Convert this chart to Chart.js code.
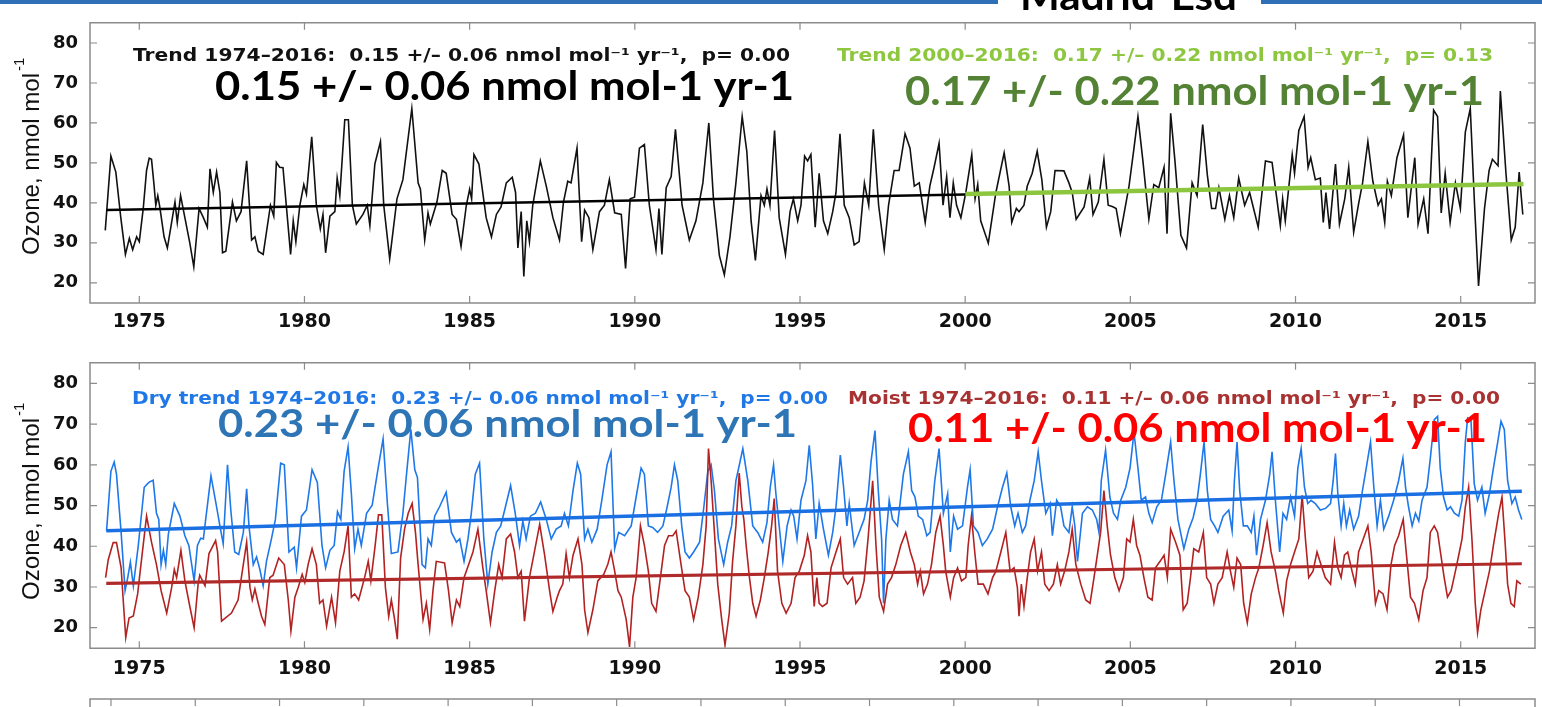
<!DOCTYPE html>
<html>
<head>
<meta charset="utf-8">
<title>Madrid-Esd ozone trends</title>
<script src="https://cdn.jsdelivr.net/npm/chart.js@4.4.1/dist/chart.umd.min.js"></script>
<style>
  html, body { margin: 0; padding: 0; background: #fff; }
  body { width: 1542px; height: 707px; position: relative; overflow: hidden; }
  .bar { position: absolute; top: 0; height: 4px; background: #2e6fb7; }
  canvas { position: absolute; left: 0; }
</style>
</head>
<body>
<div class="bar" style="left:0;width:998px"></div>
<div class="bar" style="left:1261px;width:281px"></div>
<canvas id="topChart" width="1542" height="340" style="top:0"></canvas>
<canvas id="bottomChart" width="1542" height="350" style="top:340px"></canvas>
<canvas id="nextChart" width="1542" height="17" style="top:690px"></canvas>
<script>
// axis ticks
const yearTicks = [1975, 1980, 1985, 1990, 1995, 2000, 2005, 2010, 2015];
const ozoneTicks = [20, 30, 40, 50, 60, 70, 80];
const nextPanelTicks = [0, 1, 2, 3, 4, 5, 6, 7, 8, 9, 10, 11, 12, 13, 14, 15, 16];

// monthly ozone, all conditions [year, nmol/mol]
const allOzone = [
  [1973.97,33.1],[1974.14,51.7],[1974.29,47.7],[1974.44,36.3],[1974.58,27.1],[1974.70,31.1],[1974.80,28.3],[1974.92,31.5],
  [1975.00,30.3],[1975.12,38.6],[1975.22,48.1],[1975.30,51.2],[1975.37,50.9],[1975.44,45.0],[1975.50,39.4],[1975.56,41.8],
  [1975.62,39.0],[1975.75,31.5],[1975.85,28.7],[1975.97,34.7],[1976.08,40.2],[1976.15,35.1],[1976.25,41.8],[1976.38,36.3],
  [1976.53,29.9],[1976.65,24.0],[1976.81,38.6],[1976.94,36.3],[1977.06,33.9],[1977.14,48.5],[1977.24,42.6],[1977.34,47.7],
  [1977.44,42.6],[1977.52,27.5],[1977.62,27.9],[1977.82,40.2],[1977.94,35.5],[1978.08,37.8],[1978.25,50.5],[1978.40,30.7],
  [1978.50,31.5],[1978.60,27.9],[1978.75,27.1],[1978.97,39.4],[1979.07,36.7],[1979.15,50.1],[1979.25,48.9],[1979.35,48.8],
  [1979.58,27.1],[1979.66,35.5],[1979.74,30.3],[1979.86,39.4],[1979.98,44.6],[1980.06,42.2],[1980.22,56.5],[1980.36,39.4],
  [1980.48,33.5],[1980.56,37.1],[1980.64,27.5],[1980.77,36.7],[1980.92,37.8],[1980.99,46.2],[1981.07,41.8],[1981.22,60.8],
  [1981.33,60.8],[1981.45,39.4],[1981.57,34.7],[1981.77,37.1],[1981.90,39.4],[1981.98,34.3],[1982.13,49.7],[1982.30,55.3],
  [1982.40,39.4],[1982.58,26.0],[1982.80,41.0],[1982.98,45.8],[1983.25,63.6],[1983.44,45.0],[1983.51,43.4],[1983.64,30.7],
  [1983.74,37.5],[1983.81,34.7],[1984.01,40.2],[1984.17,48.1],[1984.29,47.4],[1984.47,37.1],[1984.60,35.9],[1984.74,29.1],
  [1984.90,39.4],[1985.00,43.4],[1985.06,41.0],[1985.13,52.1],[1985.28,49.7],[1985.50,36.3],[1985.66,31.5],[1985.81,37.1],
  [1985.95,39.0],[1986.11,45.0],[1986.29,46.4],[1986.39,42.6],[1986.46,28.7],[1986.56,37.8],[1986.64,21.6],[1986.73,35.5],
  [1986.81,30.3],[1986.91,39.4],[1987.14,50.5],[1987.32,44.2],[1987.52,36.3],[1987.72,30.7],[1987.84,40.2],[1987.97,45.4],
  [1988.07,45.0],[1988.25,53.7],[1988.39,30.3],[1988.48,38.2],[1988.61,36.3],[1988.73,28.3],[1988.93,37.8],[1989.08,39.4],
  [1989.23,45.8],[1989.39,37.5],[1989.59,37.1],[1989.72,23.6],[1989.86,41.0],[1989.99,41.4],[1990.14,53.7],[1990.29,54.6],
  [1990.44,39.4],[1990.64,28.3],[1990.73,38.6],[1990.82,27.1],[1990.95,43.8],[1991.10,46.6],[1991.23,58.4],[1991.43,39.4],
  [1991.65,30.7],[1991.85,35.5],[1992.06,45.0],[1992.24,60.0],[1992.38,41.0],[1992.56,26.8],[1992.71,22.0],[1992.88,31.5],
  [1993.06,45.0],[1993.25,61.6],[1993.39,52.9],[1993.52,35.5],[1993.65,25.6],[1993.82,41.8],[1993.92,39.4],[1994.00,43.5],
  [1994.09,39.4],[1994.23,58.1],[1994.37,36.3],[1994.56,27.1],[1994.70,37.8],[1994.80,41.0],[1994.93,35.5],[1995.03,39.4],
  [1995.14,51.7],[1995.23,50.5],[1995.33,52.1],[1995.46,33.9],[1995.58,47.4],[1995.71,35.5],[1995.84,32.3],[1995.99,37.8],
  [1996.09,42.6],[1996.21,57.3],[1996.34,39.4],[1996.49,36.3],[1996.64,29.5],[1996.79,30.3],[1996.95,45.0],[1997.08,39.4],
  [1997.22,58.4],[1997.38,39.4],[1997.55,28.3],[1997.68,39.4],[1997.85,48.1],[1998.00,48.1],[1998.18,57.3],[1998.33,53.7],
  [1998.46,44.2],[1998.61,45.0],[1998.79,35.1],[1998.93,44.2],[1999.06,48.9],[1999.21,54.9],[1999.33,39.4],[1999.44,46.6],
  [1999.54,36.3],[1999.64,45.0],[1999.74,39.4],[1999.87,36.3],[2000.02,42.6],[2000.20,52.1],[2000.30,41.0],[2000.38,44.6],
  [2000.47,35.5],[2000.70,29.9],[2000.93,42.6],[2001.18,52.5],[2001.33,44.2],[2001.41,35.1],[2001.55,38.6],[2001.63,37.8],
  [2001.78,39.4],[2001.88,44.2],[2002.03,47.4],[2002.18,52.9],[2002.32,45.8],[2002.46,33.9],[2002.59,37.8],[2002.72,48.1],
  [2002.99,48.0],[2003.14,45.0],[2003.24,42.6],[2003.36,35.9],[2003.60,39.0],[2003.77,46.2],[2003.87,37.1],[2004.03,40.2],
  [2004.20,50.9],[2004.33,39.4],[2004.47,39.0],[2004.57,38.6],[2004.70,32.3],[2004.96,44.2],[2005.11,53.7],[2005.23,61.6],
  [2005.38,50.5],[2005.56,35.9],[2005.71,44.6],[2005.86,43.8],[2006.02,48.9],[2006.11,32.3],[2006.22,62.4],[2006.35,50.5],
  [2006.53,31.9],[2006.70,28.7],[2006.87,45.0],[2007.02,41.8],[2007.19,59.6],[2007.33,47.0],[2007.46,38.6],[2007.58,38.6],
  [2007.68,43.8],[2007.86,35.9],[2008.00,41.8],[2008.13,36.3],[2008.28,46.2],[2008.46,39.4],[2008.61,42.6],[2008.87,33.9],
  [2009.09,50.5],[2009.29,50.1],[2009.54,34.3],[2009.61,41.0],[2009.69,35.5],[2009.82,45.8],[2009.90,52.1],[2009.97,47.4],
  [2010.10,58.1],[2010.26,61.6],[2010.38,48.9],[2010.46,51.3],[2010.60,45.8],[2010.75,46.2],[2010.84,35.1],[2010.92,42.6],
  [2011.03,33.5],[2011.21,49.7],[2011.33,34.7],[2011.49,41.0],[2011.61,48.9],[2011.76,32.7],[2011.91,39.8],[2012.03,45.0],
  [2012.19,55.3],[2012.34,45.4],[2012.50,39.4],[2012.60,41.0],[2012.70,35.1],[2012.78,45.4],[2012.90,41.8],[2013.07,51.3],
  [2013.27,57.0],[2013.40,36.3],[2013.61,51.3],[2013.71,34.7],[2013.88,41.0],[2014.01,32.3],[2014.18,63.2],[2014.30,61.6],
  [2014.41,37.5],[2014.53,47.4],[2014.68,35.1],[2014.84,45.0],[2014.99,38.6],[2015.14,57.7],[2015.29,63.6],[2015.42,39.4],
  [2015.54,19.2],[2015.72,38.6],[2015.86,48.1],[2015.96,50.9],[2016.13,49.3],[2016.20,68.0],[2016.37,47.4],[2016.53,30.7],
  [2016.65,33.9],[2016.77,47.7],[2016.88,37.1]
];

// monthly ozone, dry conditions
const dryOzone = [
  [1974.01,43.8],[1974.14,58.4],[1974.24,60.7],[1974.31,57.7],[1974.45,43.4],[1974.57,29.1],[1974.65,32.3],[1974.73,36.1],
  [1974.82,30.3],[1974.97,40.2],[1975.15,54.5],[1975.29,55.7],[1975.42,56.2],[1975.52,48.1],[1975.59,46.6],[1975.66,35.5],
  [1975.73,39.0],[1975.80,35.5],[1975.88,43.0],[1976.06,50.5],[1976.23,47.4],[1976.38,42.6],[1976.50,40.2],[1976.66,31.5],
  [1976.76,40.2],[1976.86,42.0],[1976.94,41.8],[1977.01,46.6],[1977.17,57.3],[1977.34,49.7],[1977.44,45.0],[1977.54,40.6],
  [1977.67,60.0],[1977.77,48.9],[1977.89,38.6],[1978.01,38.0],[1978.15,43.4],[1978.25,54.1],[1978.32,45.0],[1978.45,35.5],
  [1978.55,37.4],[1978.65,34.3],[1978.75,30.3],[1978.85,36.3],[1979.00,41.8],[1979.12,46.6],[1979.28,60.4],[1979.39,60.0],
  [1979.53,38.6],[1979.69,39.8],[1979.76,34.7],[1979.91,47.4],[1980.06,48.9],[1980.23,58.8],[1980.39,55.7],[1980.53,40.2],
  [1980.64,34.7],[1980.77,39.0],[1980.90,40.2],[1981.00,48.5],[1981.10,46.6],[1981.20,58.4],[1981.32,64.4],[1981.42,52.9],
  [1981.52,39.4],[1981.62,44.2],[1981.72,40.2],[1981.88,48.1],[1982.05,50.1],[1982.23,59.2],[1982.38,66.4],[1982.51,50.5],
  [1982.63,38.2],[1982.83,38.6],[1982.98,48.1],[1983.08,56.9],[1983.22,68.7],[1983.34,58.8],[1983.42,56.9],[1983.56,35.5],
  [1983.66,34.7],[1983.74,41.8],[1983.84,40.2],[1983.94,47.4],[1984.09,49.7],[1984.29,53.3],[1984.45,43.4],[1984.60,41.0],
  [1984.70,41.8],[1984.83,36.3],[1984.95,41.8],[1985.05,48.1],[1985.17,57.7],[1985.30,60.4],[1985.43,41.8],[1985.55,30.7],
  [1985.68,38.6],[1985.81,43.4],[1985.94,45.0],[1986.06,48.9],[1986.24,54.9],[1986.38,48.1],[1986.51,40.2],[1986.61,46.2],
  [1986.71,41.8],[1986.84,47.4],[1986.99,48.1],[1987.15,50.9],[1987.32,46.6],[1987.47,41.8],[1987.62,44.2],[1987.77,45.0],
  [1987.87,48.1],[1987.99,45.0],[1988.13,53.7],[1988.26,60.4],[1988.36,57.7],[1988.48,41.8],[1988.58,44.2],[1988.70,41.0],
  [1988.86,44.2],[1989.00,51.3],[1989.16,60.0],[1989.28,63.2],[1989.39,39.4],[1989.51,43.4],[1989.69,42.6],[1989.89,45.0],
  [1990.04,52.1],[1990.19,59.2],[1990.29,57.7],[1990.41,45.0],[1990.54,44.6],[1990.69,43.4],[1990.85,45.0],[1990.98,49.7],
  [1991.10,54.5],[1991.20,60.0],[1991.30,56.1],[1991.42,45.0],[1991.52,38.6],[1991.65,37.1],[1991.78,38.6],[1991.96,41.0],
  [1992.09,49.7],[1992.21,58.4],[1992.31,60.0],[1992.41,53.7],[1992.53,41.8],[1992.69,35.5],[1992.81,41.0],[1992.93,45.0],
  [1993.06,56.1],[1993.27,64.0],[1993.42,56.1],[1993.57,45.0],[1993.72,43.4],[1993.87,41.0],[1994.00,45.8],[1994.10,54.5],
  [1994.20,60.0],[1994.27,52.9],[1994.37,45.0],[1994.48,36.3],[1994.61,45.0],[1994.73,48.9],[1994.81,47.4],[1994.91,41.8],
  [1995.03,51.3],[1995.18,56.1],[1995.28,64.8],[1995.38,55.3],[1995.48,41.8],[1995.58,50.5],[1995.71,44.2],[1995.86,37.8],
  [1995.99,43.4],[1996.09,49.7],[1996.22,62.4],[1996.32,54.5],[1996.42,45.0],[1996.49,50.5],[1996.64,40.2],[1996.79,43.4],
  [1996.94,46.6],[1997.05,51.3],[1997.15,60.8],[1997.27,68.4],[1997.37,53.7],[1997.47,41.8],[1997.53,26.0],[1997.60,41.8],
  [1997.70,51.3],[1997.80,46.6],[1997.95,45.0],[1998.13,57.7],[1998.28,63.2],[1998.38,53.7],[1998.48,52.1],[1998.58,47.4],
  [1998.71,46.6],[1998.84,42.6],[1998.94,43.4],[1999.08,56.1],[1999.21,64.0],[1999.34,48.1],[1999.47,52.9],[1999.55,38.6],
  [1999.65,47.4],[1999.77,44.2],[1999.92,45.0],[2000.07,54.5],[2000.15,58.8],[2000.25,45.0],[2000.39,43.4],[2000.52,40.2],
  [2000.67,41.8],[2000.83,44.2],[2000.98,49.7],[2001.13,54.5],[2001.26,58.0],[2001.38,49.7],[2001.50,45.0],[2001.60,48.1],
  [2001.73,43.4],[2001.83,45.0],[2001.96,51.3],[2002.09,56.1],[2002.21,63.2],[2002.31,56.1],[2002.44,48.1],[2002.57,50.5],
  [2002.64,42.6],[2002.77,51.3],[2002.89,49.7],[2002.99,45.0],[2003.14,43.4],[2003.24,49.7],[2003.32,45.0],[2003.40,36.3],
  [2003.55,48.1],[2003.70,49.7],[2003.85,48.9],[2003.98,46.6],[2004.05,43.4],[2004.12,56.1],[2004.25,63.6],[2004.38,52.1],
  [2004.49,48.1],[2004.61,46.6],[2004.71,51.3],[2004.86,54.5],[2004.99,59.2],[2005.11,68.0],[2005.23,59.2],[2005.33,51.3],
  [2005.46,52.1],[2005.56,48.1],[2005.66,45.8],[2005.80,49.7],[2005.94,51.3],[2006.07,57.7],[2006.22,65.6],[2006.32,56.1],
  [2006.44,46.6],[2006.62,39.4],[2006.77,44.2],[2006.90,47.0],[2007.02,51.3],[2007.12,57.7],[2007.23,65.6],[2007.33,53.7],
  [2007.43,46.6],[2007.55,45.0],[2007.65,43.4],[2007.81,47.4],[2007.98,48.9],[2008.08,43.8],[2008.15,56.1],[2008.23,65.6],
  [2008.31,53.7],[2008.42,45.0],[2008.54,45.0],[2008.66,43.4],[2008.74,47.4],[2008.82,37.8],[2008.94,46.6],[2009.09,51.3],
  [2009.22,57.7],[2009.29,63.2],[2009.39,51.3],[2009.52,38.6],[2009.62,48.1],[2009.73,46.6],[2009.85,52.1],[2009.97,47.4],
  [2010.07,59.2],[2010.17,64.0],[2010.27,54.5],[2010.37,50.5],[2010.47,51.3],[2010.60,50.5],[2010.75,48.9],[2010.91,49.3],
  [2011.06,50.5],[2011.14,56.1],[2011.21,62.8],[2011.28,52.9],[2011.38,45.0],[2011.46,50.5],[2011.54,45.0],[2011.64,48.9],
  [2011.76,44.2],[2011.91,47.4],[2012.01,52.9],[2012.14,59.2],[2012.27,65.6],[2012.37,54.5],[2012.47,45.0],[2012.57,51.3],
  [2012.67,44.2],[2012.82,47.4],[2012.97,51.3],[2013.12,56.1],[2013.25,61.6],[2013.33,54.5],[2013.42,49.7],[2013.53,45.0],
  [2013.63,48.1],[2013.73,46.2],[2013.83,51.3],[2013.98,54.5],[2014.08,61.6],[2014.20,71.1],[2014.30,71.9],[2014.38,59.2],
  [2014.48,52.1],[2014.59,48.9],[2014.69,49.7],[2014.81,48.1],[2014.94,47.4],[2015.04,51.3],[2015.14,65.6],[2015.21,71.5],
  [2015.31,71.1],[2015.41,55.3],[2015.51,51.3],[2015.64,54.5],[2015.74,48.1],[2015.87,52.9],[2015.99,59.2],[2016.12,65.6],
  [2016.22,70.7],[2016.32,68.7],[2016.42,56.1],[2016.55,50.5],[2016.65,52.1],[2016.75,48.9],[2016.85,46.6]
];

// monthly ozone, moist conditions
const moistOzone = [
  [1973.98,32.3],[1974.06,36.7],[1974.21,40.9],[1974.31,40.9],[1974.45,34.7],[1974.52,26.0],[1974.59,17.6],[1974.69,22.4],
  [1974.82,22.9],[1974.95,28.3],[1975.05,35.5],[1975.22,47.4],[1975.37,41.0],[1975.52,35.5],[1975.66,29.1],[1975.83,23.6],
  [1975.98,29.9],[1976.06,34.3],[1976.13,32.3],[1976.26,39.0],[1976.38,31.5],[1976.53,25.2],[1976.66,20.0],[1976.78,30.7],
  [1976.83,32.9],[1976.99,30.3],[1977.11,38.2],[1977.21,39.8],[1977.31,41.4],[1977.37,38.6],[1977.49,21.6],[1977.79,23.6],
  [1977.99,26.8],[1978.09,32.3],[1978.25,41.0],[1978.35,29.9],[1978.42,26.8],[1978.50,29.5],[1978.60,26.0],[1978.70,22.8],
  [1978.80,20.8],[1978.95,32.3],[1979.05,32.9],[1979.22,37.1],[1979.39,35.5],[1979.51,26.8],[1979.59,19.2],[1979.71,27.5],
  [1979.81,29.9],[1979.93,33.1],[1980.01,31.1],[1980.11,35.5],[1980.23,39.4],[1980.36,35.5],[1980.46,26.0],[1980.56,26.8],
  [1980.67,20.4],[1980.82,27.5],[1980.94,21.2],[1981.07,33.9],[1981.20,38.6],[1981.32,45.0],[1981.42,27.5],[1981.52,28.3],
  [1981.64,26.8],[1981.82,32.3],[1981.93,36.3],[1982.01,31.5],[1982.14,40.2],[1982.24,47.7],[1982.34,47.7],[1982.45,29.9],
  [1982.55,22.8],[1982.63,26.8],[1982.73,22.0],[1982.81,17.2],[1982.91,37.1],[1983.03,44.2],[1983.14,48.1],[1983.26,50.5],
  [1983.36,43.4],[1983.44,35.5],[1983.59,22.0],[1983.69,26.0],[1983.79,19.6],[1983.89,29.1],[1983.99,36.3],[1984.24,35.9],
  [1984.36,29.1],[1984.47,21.2],[1984.60,26.8],[1984.70,25.2],[1984.83,32.3],[1984.97,35.5],[1985.10,38.6],[1985.25,44.2],
  [1985.40,34.7],[1985.50,29.1],[1985.63,21.2],[1985.76,29.1],[1985.88,35.5],[1985.98,32.3],[1986.11,41.8],[1986.24,43.0],
  [1986.36,38.6],[1986.46,32.3],[1986.56,33.9],[1986.66,21.6],[1986.81,32.3],[1986.96,38.6],[1987.12,45.4],[1987.27,37.8],
  [1987.42,29.1],[1987.52,24.0],[1987.65,27.5],[1987.72,29.1],[1987.82,30.7],[1987.92,38.2],[1988.02,32.3],[1988.13,37.8],
  [1988.28,41.8],[1988.40,35.5],[1988.48,24.4],[1988.58,18.8],[1988.73,24.4],[1988.88,31.5],[1989.06,33.1],[1989.18,35.5],
  [1989.28,38.6],[1989.39,33.9],[1989.49,29.1],[1989.59,27.5],[1989.74,22.0],[1989.84,15.3],[1989.94,27.5],[1990.04,32.3],
  [1990.17,45.0],[1990.29,40.2],[1990.41,33.9],[1990.51,26.0],[1990.64,24.0],[1990.80,33.9],[1990.90,40.2],[1991.02,42.6],
  [1991.15,42.6],[1991.25,43.8],[1991.40,35.5],[1991.52,29.1],[1991.65,27.5],[1991.78,22.0],[1991.92,27.5],[1992.06,35.5],
  [1992.16,45.0],[1992.23,64.0],[1992.31,56.1],[1992.41,43.4],[1992.51,30.7],[1992.63,22.0],[1992.73,15.7],[1992.86,23.6],
  [1992.96,36.3],[1993.06,45.0],[1993.16,58.0],[1993.24,49.7],[1993.30,46.6],[1993.37,40.2],[1993.47,32.3],[1993.57,26.0],
  [1993.67,22.8],[1993.80,26.8],[1993.92,32.3],[1994.04,38.6],[1994.14,45.0],[1994.22,51.7],[1994.32,33.9],[1994.45,26.0],
  [1994.58,23.6],[1994.73,26.0],[1994.85,32.3],[1994.98,33.9],[1995.13,37.8],[1995.23,42.6],[1995.33,38.6],[1995.43,25.2],
  [1995.51,32.3],[1995.58,26.0],[1995.68,25.2],[1995.82,26.0],[1995.94,34.7],[1996.09,38.6],[1996.22,41.8],[1996.32,32.3],
  [1996.44,30.7],[1996.59,32.3],[1996.69,26.0],[1996.82,27.5],[1996.94,31.5],[1997.06,41.8],[1997.20,56.1],[1997.30,40.2],
  [1997.40,27.5],[1997.53,24.0],[1997.65,30.7],[1997.77,32.3],[1997.90,35.5],[1998.05,40.2],[1998.20,43.4],[1998.34,38.6],
  [1998.46,35.5],[1998.56,30.7],[1998.64,33.9],[1998.74,28.3],[1998.86,30.7],[1998.98,35.5],[1999.11,43.4],[1999.24,47.4],
  [1999.34,40.2],[1999.41,33.9],[1999.55,27.5],[1999.65,32.3],[1999.77,34.7],[1999.89,31.5],[2000.02,32.3],[2000.09,40.2],
  [2000.19,47.4],[2000.29,38.6],[2000.39,30.7],[2000.55,30.7],[2000.69,28.3],[2000.83,32.3],[2000.93,33.9],[2001.08,38.6],
  [2001.23,43.4],[2001.36,33.9],[2001.48,34.7],[2001.58,29.9],[2001.63,22.8],[2001.70,30.7],[2001.78,25.2],[2001.88,32.3],
  [2001.98,38.6],[2002.09,41.8],[2002.19,33.9],[2002.31,38.6],[2002.41,30.7],[2002.54,29.1],[2002.67,30.7],[2002.79,35.5],
  [2002.89,30.7],[2003.01,33.9],[2003.14,38.6],[2003.24,44.2],[2003.35,35.5],[2003.50,30.7],[2003.65,26.8],[2003.78,26.0],
  [2003.90,32.3],[2004.00,37.8],[2004.10,43.4],[2004.20,53.7],[2004.30,45.0],[2004.40,37.8],[2004.53,32.3],[2004.66,29.1],
  [2004.79,32.3],[2004.89,41.8],[2004.99,41.0],[2005.09,46.6],[2005.19,40.2],[2005.29,37.8],[2005.41,32.3],[2005.53,27.5],
  [2005.66,26.8],[2005.76,34.7],[2005.90,36.3],[2006.02,37.8],[2006.12,32.3],[2006.22,44.2],[2006.37,41.0],[2006.50,37.8],
  [2006.60,24.4],[2006.72,26.0],[2006.82,32.3],[2006.92,39.4],[2007.07,38.6],[2007.21,43.4],[2007.31,32.3],[2007.43,30.7],
  [2007.53,26.0],[2007.65,30.7],[2007.78,32.3],[2007.93,38.6],[2008.03,33.9],[2008.13,29.9],[2008.23,37.1],[2008.34,35.5],
  [2008.43,26.0],[2008.54,21.2],[2008.66,28.3],[2008.79,32.3],[2008.89,34.7],[2009.02,40.2],[2009.14,45.8],[2009.26,38.6],
  [2009.39,33.9],[2009.49,29.1],[2009.63,23.6],[2009.73,31.5],[2009.85,35.5],[2009.97,38.6],[2010.10,41.8],[2010.20,52.5],
  [2010.30,41.8],[2010.40,32.3],[2010.53,33.9],[2010.65,38.6],[2010.77,35.5],[2010.90,32.3],[2011.06,30.7],[2011.18,41.0],
  [2011.28,34.7],[2011.38,32.3],[2011.48,37.8],[2011.58,38.6],[2011.71,33.9],[2011.81,30.7],[2011.91,38.6],[2012.05,41.8],
  [2012.19,45.0],[2012.29,38.6],[2012.42,26.0],[2012.52,29.1],[2012.65,28.3],[2012.77,24.4],[2012.89,35.5],[2013.00,40.2],
  [2013.12,42.6],[2013.26,46.6],[2013.35,38.6],[2013.48,27.5],[2013.60,26.0],[2013.73,22.0],[2013.86,29.1],[2013.98,32.3],
  [2014.08,43.4],[2014.20,45.0],[2014.30,43.4],[2014.40,37.8],[2014.50,32.3],[2014.60,27.5],[2014.71,29.1],[2014.84,33.9],
  [2014.94,37.8],[2015.04,41.8],[2015.14,49.7],[2015.24,54.5],[2015.34,41.8],[2015.44,26.0],[2015.51,18.8],[2015.61,24.4],
  [2015.74,29.1],[2015.87,33.9],[2015.99,40.2],[2016.15,48.1],[2016.25,52.1],[2016.35,40.2],[2016.42,30.7],[2016.52,26.0],
  [2016.62,25.2],[2016.70,31.5],[2016.82,30.7]
];

// fitted trend lines (start, end)
const trendAll = [[1974.0, 38.2], [2000.0, 42.1]];
const trendRecent = [[2000.0, 42.2], [2016.9, 44.7]];
const trendDry = [[1974.0, 43.8], [2016.85, 53.5]];
const trendMoist = [[1974.0, 30.9], [2016.85, 35.7]];

const sup = '\u207B\u00B9';
const dash = '\u2013';

function toXY(pts) {
    return pts.map(p => ({ x: p[0], y: p[1] }));
}

function lineSet(pts, color, width) {
    return {
        data: toXY(pts),
        borderColor: color,
        borderWidth: width,
        pointRadius: 0,
        tension: 0,
        fill: false
    };
}

// draw text stretched to a given width
function fitText(ctx, item) {
    ctx.save();
    ctx.font = item.font;
    ctx.fillStyle = item.color;
    ctx.textBaseline = 'alphabetic';
    const w = ctx.measureText(item.text).width;
    ctx.translate(item.x0, item.y);
    ctx.scale((item.x1 - item.x0) / w, 1);
    ctx.fillText(item.text, 0, 0);
    ctx.restore();
}

// rotated "Ozone, nmol mol-1" title
function drawYTitle(ctx, baseX, startY) {
    ctx.save();
    ctx.translate(baseX, startY);
    ctx.rotate(-Math.PI / 2);
    ctx.fillStyle = '#111';
    ctx.font = '24px "Liberation Sans"';
    const text = 'Ozone, nmol mol';
    const w = ctx.measureText(text).width;
    ctx.save();
    ctx.scale(182 / w, 1);
    ctx.fillText(text, 0, 0);
    ctx.restore();
    ctx.font = '15px "Liberation Sans"';
    ctx.fillText('-1', 184, -15);
    ctx.restore();
}

// frame with inward tick marks
const framePlugin = {
    id: 'frame',
    afterDatasetsDraw(chart, args, opts) {
        const { ctx, chartArea: a, scales } = chart;
        ctx.save();
        ctx.strokeStyle = '#8c8c8c';
        ctx.lineWidth = 1.5;
        ctx.beginPath();
        ctx.moveTo(a.left, a.bottom + (opts.bottom ? 0 : 20));
        ctx.lineTo(a.left, a.top);
        ctx.lineTo(a.right, a.top);
        ctx.lineTo(a.right, a.bottom + (opts.bottom ? 0 : 20));
        if (opts.bottom) ctx.closePath();
        ctx.stroke();
        ctx.lineWidth = 1.2;
        ctx.beginPath();
        scales.x.ticks.forEach(t => {
            const px = scales.x.getPixelForValue(t.value);
            ctx.moveTo(px, a.top);
            ctx.lineTo(px, a.top + 7);
            if (opts.bottom) {
                ctx.moveTo(px, a.bottom);
                ctx.lineTo(px, a.bottom - 7);
            }
        });
        scales.y.ticks.forEach(t => {
            const py = scales.y.getPixelForValue(t.value);
            ctx.moveTo(a.left, py);
            ctx.lineTo(a.left + 7, py);
            ctx.moveTo(a.right, py);
            ctx.lineTo(a.right - 7, py);
        });
        ctx.stroke();
        ctx.restore();
    },
    afterDraw(chart, args, opts) {
        const ctx = chart.ctx;
        (opts.texts || []).forEach(item => fitText(ctx, item));
        if (opts.titleY !== undefined) drawYTitle(ctx, 39, opts.titleY);
    }
};

function yearScale(showLabels, height, padding) {
    return {
        type: 'linear',
        min: 1973.508,
        max: 2017.249,
        grid: { display: false, drawTicks: false },
        border: { display: false },
        afterBuildTicks: s => { s.ticks = yearTicks.map(v => ({ value: v })); },
        afterFit: s => { s.height = height; },
        ticks: {
            display: showLabels,
            autoSkip: false,
            maxRotation: 0,
            padding: padding,
            color: '#111',
            font: { family: 'DejaVu Sans', size: 19, weight: 'bold' },
            callback: v => String(v)
        }
    };
}

function ozoneScale() {
    return {
        type: 'linear',
        min: 14.94,
        max: 85.06,
        grid: { display: false, drawTicks: false },
        border: { display: false },
        afterBuildTicks: s => { s.ticks = ozoneTicks.map(v => ({ value: v })); },
        afterFit: s => { s.width = 90; },
        ticks: {
            padding: 12,
            color: '#111',
            font: { family: 'DejaVu Sans', size: 18, weight: 'bold' },
            callback: v => String(v)
        }
    };
}

const smallFont = 'bold 17px "DejaVu Sans"';
const bigFont = 'bold 40px Lato';

// top panel: all data
new Chart(document.getElementById('topChart'), {
    type: 'line',
    data: {
        datasets: [
            lineSet(trendAll, '#000000', 2.6),
            lineSet(trendRecent, '#8cc63f', 4.5),
            lineSet(allOzone, '#111111', 1.6)
        ]
    },
    options: {
        responsive: false,
        animation: false,
        layout: { padding: { top: 8, right: 7, left: 0, bottom: 0 } },
        scales: { x: yearScale(true, 37, 8), y: ozoneScale() },
        plugins: {
            legend: { display: false },
            tooltip: { enabled: false },
            frame: {
                bottom: true,
                titleY: 255,
                texts: [
                    { text: 'Madrid-Esd', x0: 1020, x1: 1237, y: 10, font: bigFont, color: '#000' },
                    { text: `Trend 1974${dash}2016:  0.15 +/${dash} 0.06 nmol mol${sup} yr${sup},  p= 0.00`, x0: 133, x1: 790, y: 61, font: smallFont, color: '#111' },
                    { text: `Trend 2000${dash}2016:  0.17 +/${dash} 0.22 nmol mol${sup} yr${sup},  p= 0.13`, x0: 837, x1: 1493, y: 61, font: smallFont, color: '#8dc63f' },
                    { text: '0.15 +/- 0.06 nmol mol-1 yr-1', x0: 215, x1: 794, y: 100, font: bigFont, color: '#000' },
                    { text: '0.17 +/- 0.22 nmol mol-1 yr-1', x0: 905, x1: 1484, y: 105, font: bigFont, color: '#548235' }
                ]
            }
        }
    },
    plugins: [framePlugin]
});

// bottom panel: dry and moist
new Chart(document.getElementById('bottomChart'), {
    type: 'line',
    data: {
        datasets: [
            lineSet(trendDry, '#1a6fe3', 3.6),
            lineSet(trendMoist, '#b02a2a', 3.2),
            lineSet(moistOzone, '#b22222', 1.6),
            lineSet(dryOzone, '#1e78ea', 1.6)
        ]
    },
    options: {
        responsive: false,
        animation: false,
        layout: { padding: { top: 13.3, right: 7, left: 0, bottom: 0 } },
        scales: { x: yearScale(true, 41.7, 9), y: ozoneScale() },
        plugins: {
            legend: { display: false },
            tooltip: { enabled: false },
            frame: {
                bottom: true,
                titleY: 260,
                texts: [
                    { text: `Dry trend 1974${dash}2016:  0.23 +/${dash} 0.06 nmol mol${sup} yr${sup},  p= 0.00`, x0: 132, x1: 828, y: 64.3, font: smallFont, color: '#1f78e6' },
                    { text: `Moist 1974${dash}2016:  0.11 +/${dash} 0.06 nmol mol${sup} yr${sup},  p= 0.00`, x0: 848, x1: 1500, y: 64.3, font: smallFont, color: '#a83232' },
                    { text: '0.23 +/- 0.06 nmol mol-1 yr-1', x0: 218, x1: 797, y: 97, font: 'bold 38px Lato', color: '#2e75b6' },
                    { text: '0.11 +/- 0.06 nmol mol-1 yr-1', x0: 908, x1: 1487, y: 102, font: bigFont, color: '#ff0000' }
                ]
            }
        }
    },
    plugins: [framePlugin]
});

// next panel, only its top edge is in view
new Chart(document.getElementById('nextChart'), {
    type: 'line',
    data: { datasets: [] },
    options: {
        responsive: false,
        animation: false,
        layout: { padding: { top: 9, right: 7, left: 0, bottom: 0 } },
        scales: {
            x: {
                type: 'linear',
                min: -0.249,
                max: 16.896,
                grid: { display: false, drawTicks: false },
                border: { display: false },
                afterBuildTicks: s => { s.ticks = nextPanelTicks.map(v => ({ value: v })); },
                afterFit: s => { s.height = 0; },
                ticks: { display: false }
            },
            y: {
                type: 'linear',
                min: 0,
                max: 1,
                grid: { display: false, drawTicks: false },
                border: { display: false },
                afterBuildTicks: s => { s.ticks = []; },
                afterFit: s => { s.width = 90; },
                ticks: { display: false }
            }
        },
        plugins: {
            legend: { display: false },
            tooltip: { enabled: false },
            frame: { bottom: false }
        }
    },
    plugins: [framePlugin]
});
</script>
</body>
</html>
